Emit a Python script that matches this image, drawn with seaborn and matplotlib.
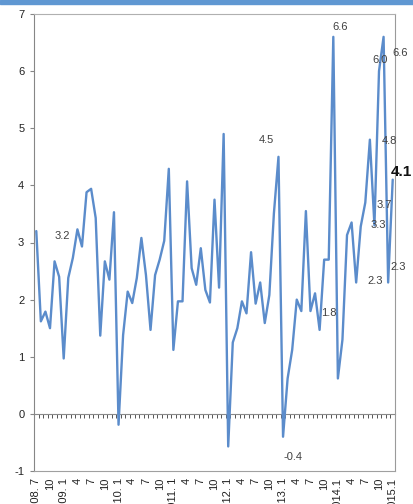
import numpy as np
import pandas as pd
import matplotlib
matplotlib.use("Agg")
import matplotlib.pyplot as plt
from matplotlib.patches import Rectangle
import seaborn as sns

# Monthly series, 2008.7 through 2015.1
values = [
    3.2, 1.62, 1.79, 1.50, 2.67, 2.40, 0.97, 2.38, 2.73, 3.23, 2.93, 3.88,
    3.94, 3.43, 1.37, 2.67, 2.35, 3.53, -0.19, 1.38, 2.14, 1.94, 2.38, 3.08,
    2.43, 1.47, 2.43, 2.70, 3.03, 4.29, 1.12, 1.97, 1.97, 4.07, 2.55, 2.26,
    2.90, 2.17, 1.95, 3.75, 2.21, 4.90, -0.57, 1.25, 1.50, 1.97, 1.76, 2.83,
    1.93, 2.30, 1.59, 2.08, 3.51, 4.5, -0.4, 0.62, 1.12, 2.00, 1.80, 3.55,
    1.8, 2.11, 1.47, 2.70, 2.70, 6.6, 0.62, 1.30, 3.13, 3.35, 2.3, 3.28,
    3.7, 4.8, 3.3, 6.0, 6.6, 2.3, 4.1,
]

# Category labels shown every third month
tick_labels = [
    "2008. 7", "10", "2009. 1", "4", "7", "10", "2010. 1", "4", "7", "10",
    "2011. 1", "4", "7", "10", "2012. 1", "4", "7", "10", "2013. 1", "4",
    "7", "10", "2014.1", "4", "7", "10", "2015.1",
]

# Annotated values: (text, x position in months, y position)
note_text = ["3.2", "4.5", "-0.4", "1.8", "6.6", "6.0", "6.6", "4.8",
             "3.7", "3.3", "2.3", "2.3"]
note_x = [5.8, 50.3, 56.1, 64.0, 66.4, 75.2, 79.6, 77.3, 76.1, 74.9, 74.1, 79.3]
note_y = [3.12, 4.80, -0.75, 1.77, 6.78, 6.20, 6.32, 4.78, 3.66, 3.31, 2.33, 2.57]
last_text, last_x, last_y = "4.1", 79.9, 4.24

df = pd.DataFrame({"month": np.arange(len(values)), "value": values})

sns.set_style("white")
plt.rcParams["font.family"] = ["Liberation Sans", "DejaVu Sans"]

fig = plt.figure(figsize=(4.14, 5.04), dpi=100)
ax = fig.add_axes([34 / 414, 1 - 471 / 504, 361 / 414, 457 / 504])

sns.lineplot(data=df, x="month", y="value", ax=ax, color="#5b8ccb",
             linewidth=1.7, legend=False)

ax.set_xlim(-0.5, len(values) - 0.5)
ax.set_ylim(-1, 7)
ax.set_xlabel("")
ax.set_ylabel("")

# y axis
ax.set_yticks(range(-1, 8))
ax.set_yticklabels([str(v) for v in range(-1, 8)])
ax.tick_params(axis="y", direction="out", length=3, width=0.8, color="#868686",
               pad=4, labelsize=8, labelcolor="#222222", left=True)

# category labels along the bottom
ax.set_xticks(np.arange(0, len(values), 3))
ax.set_xticklabels(tick_labels, rotation=90, va="top", ha="center")
ax.tick_params(axis="x", length=0, pad=5, labelsize=8, labelcolor="#222222")

for side in ["left", "right", "top", "bottom"]:
    ax.spines[side].set_visible(True)
    ax.spines[side].set_linewidth(0.8)
ax.spines["left"].set_color("#868686")
ax.spines["bottom"].set_color("#a0a0a0")
ax.spines["right"].set_color("#9a9a9a")
ax.spines["top"].set_color("#b0b0b0")

# horizontal axis line at zero with a tick at each month boundary
zero_axis = ax.secondary_xaxis((0 - (-1)) / (7 - (-1)))
zero_axis.set_xticks(np.arange(-0.5, len(values), 1.0))
zero_axis.set_xticklabels([])
zero_axis.tick_params(axis="x", direction="out", length=3, width=0.7,
                      color="#555555")
zero_axis.spines["bottom"].set_color("#8a8a8a")
zero_axis.spines["bottom"].set_linewidth(0.8)

for t, x, y in zip(note_text, note_x, note_y):
    ax.text(x, y, t, ha="center", va="center", fontsize=8, color="#404040",
            clip_on=False)
ax.text(last_x, last_y, last_text, ha="center", va="center", fontsize=11,
        fontweight="bold", color="#111111", clip_on=False)

# header band across the top edge
fig.patches.append(Rectangle((0, 1 - 4 / 504), 1, 4 / 504,
                             transform=fig.transFigure, color="#5f97d2",
                             zorder=10))

fig.savefig("out.png", dpi=100)
